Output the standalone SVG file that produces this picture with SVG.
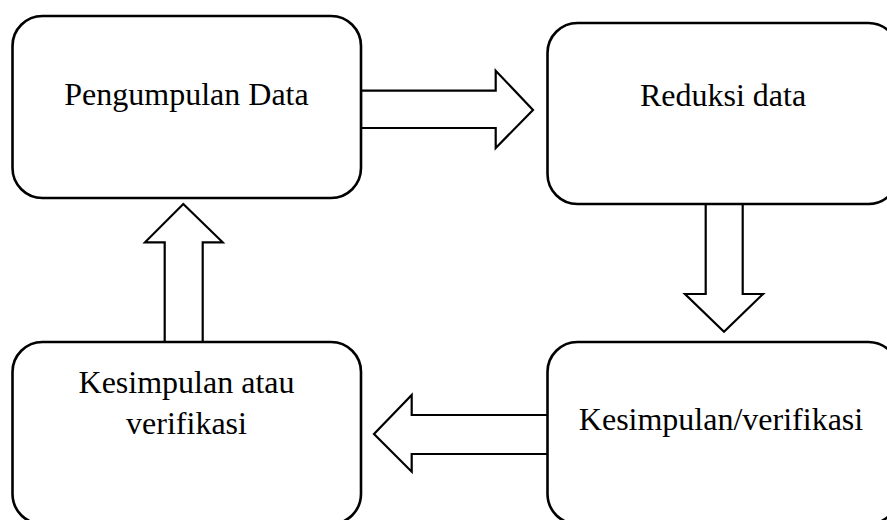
<svg xmlns="http://www.w3.org/2000/svg" width="887" height="520" viewBox="0 0 887 520">
<style>
.box{fill:#fff;stroke:#000;stroke-width:2.6}
.arr{fill:#fff;stroke:#000;stroke-width:2.2;stroke-linejoin:miter}
.lbl{font-family:"Liberation Serif","Times New Roman",serif;font-size:32px;fill:#000;text-anchor:middle}
</style>
<rect width="887" height="520" fill="#fff"/>
<g id="connectors">
<polygon class="arr" points="361,90.7 495.7,90.7 495.7,70.7 533,110 495.7,148 495.7,128 361,128"/>
<polygon class="arr" points="705.7,204 742.7,204 742.7,294 763,294 724,331.7 685,294 705.7,294"/>
<polygon class="arr" points="549,415 411.7,415 411.7,395 374,434 411.7,471.7 411.7,454 549,454"/>
<polygon class="arr" points="164.7,342.5 164.7,242.3 145,242.3 183.3,204 222.7,242.3 202.7,242.3 202.7,342.5"/>
</g>
<g id="node-pengumpulan">
<rect class="box" x="12.5" y="16" width="348.5" height="182" rx="30" ry="30"/>
<text class="lbl" x="186.5" y="104.5">Pengumpulan Data</text>
</g>
<g id="node-reduksi">
<rect class="box" x="547.5" y="23" width="351" height="181" rx="30" ry="30"/>
<text class="lbl" x="723" y="106">Reduksi data</text>
</g>
<g id="node-kesimpulan-verifikasi">
<rect class="box" x="547.5" y="342" width="351" height="182" rx="30" ry="30"/>
<text class="lbl" x="721" y="430">Kesimpulan/verifikasi</text>
</g>
<g id="node-kesimpulan-atau">
<rect class="box" x="12.5" y="342" width="348.5" height="182" rx="30" ry="30"/>
<text class="lbl" x="186.5" y="392.7">Kesimpulan atau</text>
<text class="lbl" x="186.5" y="434">verifikasi</text>
</g>
</svg>
